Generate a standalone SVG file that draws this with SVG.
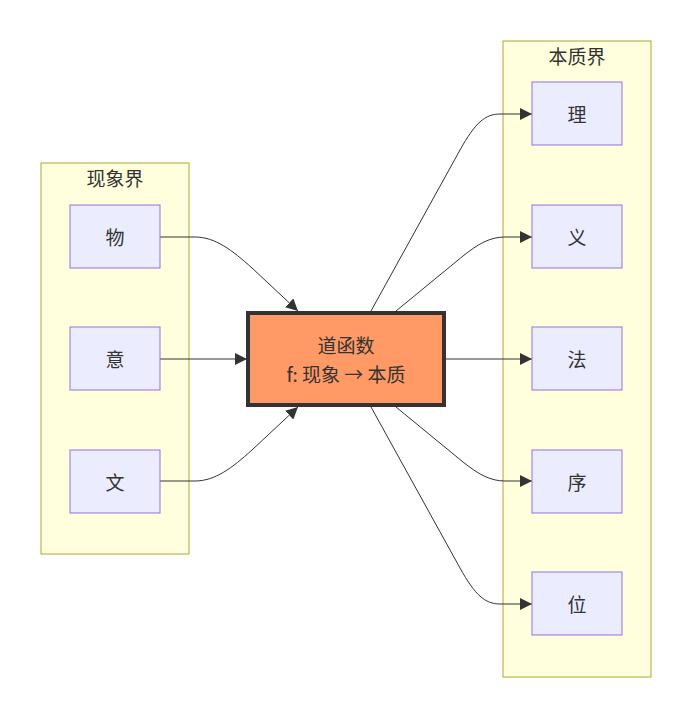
<svg xmlns="http://www.w3.org/2000/svg" width="692" height="718" viewBox="0 0 692 718">
<defs>
<marker id="arr" viewBox="0 0 10 10" refX="10" refY="5" markerWidth="12" markerHeight="12" markerUnits="userSpaceOnUse" orient="auto">
<path d="M0,0 L10,5 L0,10 z" fill="#333"/>
</marker>
<style>
.cluster{fill:#ffffde;stroke:#aaaa33;stroke-width:1}
.node{fill:#ECECFF;stroke:#9370DB;stroke-width:1}
.t{font-family:"Noto Sans CJK SC","Liberation Sans",sans-serif;font-size:19px;fill:#333;text-anchor:middle;dominant-baseline:central}
.edge{fill:none;stroke:#333;stroke-width:1;marker-end:url(#arr)}
</style>
</defs>
<rect width="692" height="718" fill="#fff"/>
<g id="cluster-phenomena">
<rect class="cluster" x="41" y="163" width="148" height="391"/>
<text class="t" x="115" y="177">现象界</text>
</g>
<g id="cluster-essence">
<rect class="cluster" x="503" y="41" width="148" height="636"/>
<text class="t" x="577" y="55">本质界</text>
</g>
<g id="connectors">
<path class="edge" d="M160,237 L195,237 C215,237 232,250 252,268 L298,311"/>
<path class="edge" d="M160,359 L247,359"/>
<path class="edge" d="M160,481 L195,481 C215,481 232,468 252,450 L298,407"/>
<path class="edge" d="M371,311 L460,150 C475,123 485,114 500,114 L532,114"/>
<path class="edge" d="M396,311 L463,256 C478,244 490,237 505,237 L532,237"/>
<path class="edge" d="M444,359 L532,359"/>
<path class="edge" d="M396,407 L463,462 C478,474 490,481 505,481 L532,481"/>
<path class="edge" d="M371,407 L460,568 C475,595 485,604 500,604 L532,604"/>
</g>
<g id="node-wu"><rect class="node" x="70" y="205" width="90" height="63"/><text class="t" x="115" y="236.5">物</text></g>
<g id="node-yi4"><rect class="node" x="70" y="327" width="90" height="63"/><text class="t" x="115" y="358.5">意</text></g>
<g id="node-wen"><rect class="node" x="70" y="450" width="90" height="63"/><text class="t" x="115" y="481.5">文</text></g>
<g id="node-dao">
<rect x="248" y="313" width="196" height="92" fill="#ff9966" stroke="#333" stroke-width="4"/>
<text class="t" x="346" y="344">道函数</text>
<text class="t" x="346" y="373">f: 现象 → 本质</text>
</g>
<g id="node-li"><rect class="node" x="532" y="82" width="90" height="63"/><text class="t" x="577" y="113.5">理</text></g>
<g id="node-yi"><rect class="node" x="532" y="205" width="90" height="63"/><text class="t" x="577" y="236.5">义</text></g>
<g id="node-fa"><rect class="node" x="532" y="327" width="90" height="63"/><text class="t" x="577" y="358.5">法</text></g>
<g id="node-xu"><rect class="node" x="532" y="450" width="90" height="63"/><text class="t" x="577" y="481.5">序</text></g>
<g id="node-wei"><rect class="node" x="532" y="572" width="90" height="63"/><text class="t" x="577" y="603.5">位</text></g>
</svg>
